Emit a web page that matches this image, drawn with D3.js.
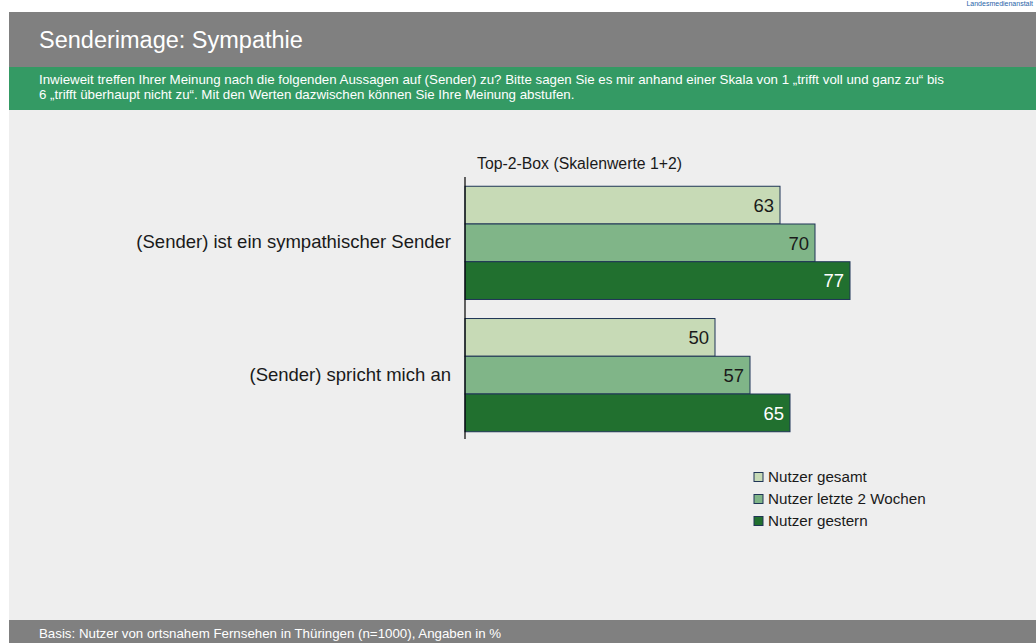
<!DOCTYPE html>
<html>
<head>
<meta charset="utf-8">
<script src="https://cdn.jsdelivr.net/npm/d3@7"></script>
<style>
  body { margin: 0; background: #fff; }
  svg { display: block; font-family: "Liberation Sans", Arial, sans-serif; }
</style>
</head>
<body>
<script>
// data
const categories = ['(Sender) ist ein sympathischer Sender', '(Sender) spricht mich an'];
const seriesNames = ['Nutzer gesamt', 'Nutzer letzte 2 Wochen', 'Nutzer gestern'];
const gesamt = [63, 50];
const letzte2Wochen = [70, 57];
const gestern = [77, 65];
const seriesColors = ['#c7dab6', '#80b588', '#21702f'];
const labelColors = ['#1a1a1a', '#1a1a1a', '#ffffff'];

const title = 'Senderimage: Sympathie';
const question = ['Inwieweit treffen Ihrer Meinung nach die folgenden Aussagen auf (Sender) zu? Bitte sagen Sie es mir anhand einer Skala von 1 \u201etrifft voll und ganz zu\u201c bis',
  '6 \u201etrifft \u00fcberhaupt nicht zu\u201c. Mit den Werten dazwischen k\u00f6nnen Sie Ihre Meinung abstufen.'];
const footnote = 'Basis: Nutzer von ortsnahem Fernsehen in Th\u00fcringen (n=1000), Angaben in %';

const W = 1036, H = 643;
const svg = d3.select('body').append('svg').attr('width', W).attr('height', H);

// page frame
svg.append('rect').attr('x', 9).attr('y', 12).attr('width', W - 9).attr('height', H - 12).attr('fill', '#eeeeee');
svg.append('rect').attr('x', 9).attr('y', 12).attr('width', W - 9).attr('height', 55).attr('fill', '#808080');
svg.append('rect').attr('x', 9).attr('y', 67).attr('width', W - 9).attr('height', 43).attr('fill', '#349a64');
svg.append('rect').attr('x', 9).attr('y', 620).attr('width', W - 9).attr('height', 23).attr('fill', '#808080');

svg.append('text').attr('x', 1033).attr('y', 6).attr('text-anchor', 'end')
  .attr('font-size', 7).attr('fill', '#2a64a8').text('Landesmedienanstalt');

svg.append('text').attr('x', 39).attr('y', 48).attr('font-size', 23.5).attr('fill', '#fff').text(title);

svg.append('g').selectAll('text').data(question).enter().append('text')
  .attr('x', 39).attr('y', (d, i) => 84 + i * 14.5)
  .attr('font-size', 13.3).attr('fill', '#fff').text(d => d);

svg.append('text').attr('x', 39).attr('y', 638).attr('font-size', 13.3).attr('fill', '#fff').text(footnote);

// chart
const x = d3.scaleLinear().domain([0, 100]).range([465, 965]);
const y = d3.scaleBand().domain(categories).range([177, 441]).paddingInner(0.144).paddingOuter(0.07);
const y1 = d3.scaleBand().domain(seriesNames).range([0, y.bandwidth()]);

const series = [gesamt, letzte2Wochen, gestern];

const groups = svg.append('g').selectAll('g').data(categories).enter().append('g')
  .attr('transform', d => 'translate(0,' + y(d) + ')');

groups.selectAll('rect').data((d, ci) => series.map((s, si) => ({ name: seriesNames[si], v: s[ci], si: si })))
  .enter().append('rect')
  .attr('x', x(0))
  .attr('y', d => y1(d.name))
  .attr('width', d => x(d.v) - x(0))
  .attr('height', y1.bandwidth())
  .attr('fill', d => seriesColors[d.si])
  .attr('stroke', '#1f3556')
  .attr('stroke-width', 1);

groups.selectAll('text').data((d, ci) => series.map((s, si) => ({ name: seriesNames[si], v: s[ci], si: si })))
  .enter().append('text')
  .attr('x', d => x(d.v) - 6)
  .attr('y', d => y1(d.name) + y1.bandwidth() / 2)
  .attr('dy', '0.36em')
  .attr('text-anchor', 'end')
  .attr('font-size', 18.5)
  .attr('fill', d => labelColors[d.si])
  .text(d => d.v);

// axis line
svg.append('line').attr('x1', x(0)).attr('x2', x(0)).attr('y1', 177).attr('y2', 439)
  .attr('stroke', '#000').attr('stroke-width', 1.2);

svg.append('g').selectAll('text').data(categories).enter().append('text')
  .attr('x', 451).attr('y', d => y(d) + y.bandwidth() / 2)
  .attr('dy', '0.3em').attr('text-anchor', 'end')
  .attr('font-size', 18.5).attr('fill', '#1a1a1a').text(d => d);

svg.append('text').attr('x', 477).attr('y', 169).attr('font-size', 15.8).attr('fill', '#1a1a1a')
  .text('Top-2-Box (Skalenwerte 1+2)');

// legend
const legend = svg.append('g').selectAll('g').data(seriesNames).enter().append('g')
  .attr('transform', (d, i) => 'translate(754,' + (477 + i * 22) + ')');
legend.append('rect').attr('x', 0).attr('y', -4.5).attr('width', 9).attr('height', 9)
  .attr('fill', (d, i) => seriesColors[i]).attr('stroke', '#1f3556').attr('stroke-width', 1);
legend.append('text').attr('x', 14).attr('dy', '0.35em').attr('font-size', 15.2).attr('fill', '#1a1a1a').text(d => d);
</script>
</body>
</html>
